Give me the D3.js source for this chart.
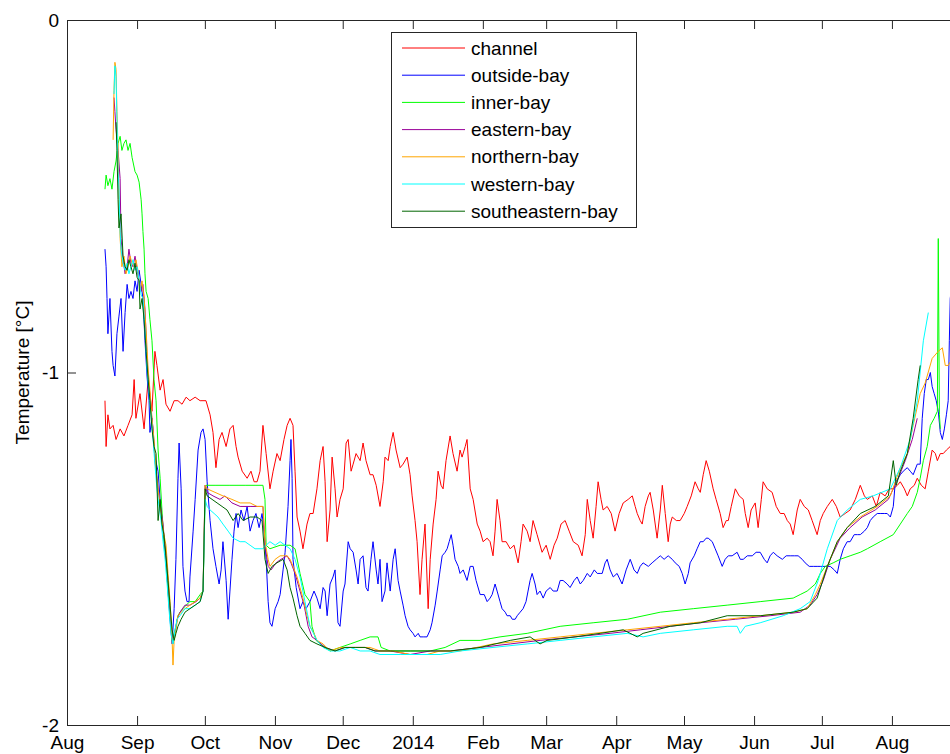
<!DOCTYPE html>
<meta charset="utf-8">
<html>
<head>
<title>bay temperatures</title>
<script src="https://d3js.org/d3.v7.min.js"></script>
<style>
  body { margin: 0; background: #fff; }
  text { font-family: Arial, "Liberation Sans", Helvetica, sans-serif; }
</style>
</head>
<body>
<div id="chart"></div>
<script>
/* series values: [days since 2013-08-01, temperature degC] */
var channelData = [
  [16.8,-1.08],[17.3,-1.21],[18.1,-1.12],[19.0,-1.16],[20.4,-1.15],[21.7,-1.19],[23.5,-1.16],[25.2,-1.18],
  [27.0,-1.15],[28.8,-1.12],[29.7,-1.02],[30.5,-1.13],[32.3,-1.06],[34.1,-1.16],[35.9,-1.02],[37.6,-1.11],
  [38.9,-0.94],[39.8,-0.98],[41.2,-1.05],[42.5,-1.02],[43.8,-1.09],[45.6,-1.11],[47.4,-1.08],[49.1,-1.08],
  [50.9,-1.09],[52.7,-1.07],[54.4,-1.08],[56.7,-1.07],[58.9,-1.08],[61.5,-1.08],[63.3,-1.12],[64.6,-1.17],
  [65.9,-1.27],[67.3,-1.19],[68.6,-1.17],[70.4,-1.21],[72.1,-1.16],[73.5,-1.15],[74.8,-1.21],[75.7,-1.24],
  [77.5,-1.28],[79.7,-1.30],[81.4,-1.28],[82.8,-1.31],[84.1,-1.31],[85.4,-1.28],[86.7,-1.15],[88.1,-1.23],
  [89.8,-1.33],[91.2,-1.28],[92.9,-1.23],[94.3,-1.25],[96.0,-1.19],[97.4,-1.15],[98.7,-1.13],[100.0,-1.15],
  [100.9,-1.28],[101.8,-1.41],[103.1,-1.45],[104.4,-1.50],[106.2,-1.43],[107.5,-1.40],[108.9,-1.40],[110.6,-1.33],
  [112.0,-1.25],[113.3,-1.21],[114.2,-1.31],[115.1,-1.48],[116.4,-1.39],[117.3,-1.24],[118.6,-1.33],[119.5,-1.41],
  [120.8,-1.36],[122.2,-1.33],[123.5,-1.20],[124.4,-1.19],[125.7,-1.28],[126.6,-1.26],[127.9,-1.23],[129.7,-1.25],
  [131.0,-1.20],[132.3,-1.25],[134.1,-1.29],[135.4,-1.29],[136.8,-1.32],[138.5,-1.38],[139.9,-1.31],[140.7,-1.24],
  [142.1,-1.25],[143.0,-1.21],[144.3,-1.17],[145.6,-1.22],[147.4,-1.27],[148.7,-1.26],[150.5,-1.24],[151.8,-1.29],
  [152.7,-1.35],[154.0,-1.42],[154.9,-1.48],[156.2,-1.63],[157.1,-1.53],[158.4,-1.43],[159.8,-1.67],[160.7,-1.53],
  [162.0,-1.43],[163.3,-1.36],[164.2,-1.28],[165.5,-1.32],[166.4,-1.33],[167.7,-1.25],[169.5,-1.18],[170.8,-1.23],
  [172.6,-1.28],[173.9,-1.22],[174.8,-1.24],[176.2,-1.21],[177.0,-1.19],[178.4,-1.33],[179.7,-1.36],[181.5,-1.43],
  [182.8,-1.45],[184.1,-1.48],[185.9,-1.47],[187.2,-1.48],[188.5,-1.52],[189.4,-1.45],[190.3,-1.36],[191.6,-1.42],
  [192.5,-1.48],[194.3,-1.48],[196.1,-1.50],[197.8,-1.49],[199.6,-1.54],[200.9,-1.48],[201.8,-1.43],[203.6,-1.45],
  [204.9,-1.48],[206.2,-1.42],[208.0,-1.46],[210.2,-1.51],[212.0,-1.49],[213.8,-1.53],[215.5,-1.49],[216.9,-1.47],
  [218.6,-1.43],[220.4,-1.42],[222.2,-1.45],[224.0,-1.48],[226.2,-1.49],[227.9,-1.52],[229.3,-1.46],[230.2,-1.36],
  [231.5,-1.42],[232.8,-1.47],[234.1,-1.38],[235.0,-1.31],[236.3,-1.36],[237.2,-1.39],[239.0,-1.38],[240.8,-1.40],
  [242.5,-1.45],[244.3,-1.40],[246.1,-1.37],[248.3,-1.36],[250.1,-1.35],[251.4,-1.38],[252.3,-1.40],[253.6,-1.42],
  [254.5,-1.43],[255.8,-1.38],[257.2,-1.35],[258.0,-1.34],[259.4,-1.39],[261.1,-1.47],[262.5,-1.39],[263.4,-1.32],
  [264.7,-1.40],[266.0,-1.48],[266.9,-1.43],[267.8,-1.41],[269.6,-1.42],[271.3,-1.42],[273.1,-1.40],[274.4,-1.38],
  [276.2,-1.35],[277.9,-1.31],[279.3,-1.33],[280.2,-1.34],[281.5,-1.29],[282.8,-1.25],[284.2,-1.28],[285.9,-1.33],
  [287.2,-1.36],[289.0,-1.40],[290.3,-1.44],[291.7,-1.42],[292.6,-1.42],[293.9,-1.38],[295.7,-1.33],[297.4,-1.35],
  [299.2,-1.36],[300.1,-1.40],[301.4,-1.44],[302.7,-1.39],[304.5,-1.37],[305.8,-1.44],[307.2,-1.36],[308.0,-1.31],
  [309.8,-1.33],[312.0,-1.34],[313.8,-1.38],[315.6,-1.40],[317.3,-1.40],[318.7,-1.42],[320.0,-1.43],[321.3,-1.46],
  [323.1,-1.39],[324.4,-1.36],[326.2,-1.38],[328.0,-1.39],[329.7,-1.42],[331.9,-1.46],[333.3,-1.42],[334.6,-1.40],
  [336.4,-1.38],[338.6,-1.36],[340.4,-1.38],[342.1,-1.41],[344.3,-1.40],[346.5,-1.39],[348.8,-1.36],[351.0,-1.32],
  [352.8,-1.35],[354.1,-1.36],[356.3,-1.35],[358.1,-1.38],[359.8,-1.34],[362.0,-1.35],[363.8,-1.33],[365.6,-1.33],
  [367.4,-1.32],[368.7,-1.31],[370.5,-1.33],[371.8,-1.35],[373.1,-1.33],[374.9,-1.32],[376.2,-1.30],[378.0,-1.32],
  [379.7,-1.33],[381.1,-1.28],[382.8,-1.22],[384.2,-1.23],[385.1,-1.25],[386.4,-1.23],[387.7,-1.23],[389.1,-1.22],
  [390.8,-1.21],[393.0,-1.19]
];
var outsideData = [
  [16.8,-0.65],[17.3,-0.70],[17.7,-0.79],[18.1,-0.89],[19.0,-0.79],[19.9,-0.94],[20.4,-0.98],[21.2,-1.01],
  [22.1,-0.89],[23.0,-0.84],[23.9,-0.79],[24.8,-0.94],[25.7,-0.83],[26.6,-0.75],[27.4,-0.79],[28.3,-0.77],
  [29.2,-0.79],[30.1,-0.74],[31.0,-0.77],[31.9,-0.71],[32.8,-0.75],[33.6,-0.79],[34.5,-0.91],[35.4,-1.01],
  [36.3,-1.08],[36.7,-1.17],[37.6,-1.13],[38.9,-1.24],[40.3,-1.28],[41.2,-1.36],[42.5,-1.45],[43.8,-1.53],
  [44.7,-1.62],[45.6,-1.70],[46.5,-1.77],[47.4,-1.67],[48.2,-1.53],[49.1,-1.30],[49.6,-1.20],[50.5,-1.33],
  [51.3,-1.55],[52.2,-1.62],[53.1,-1.65],[54.0,-1.65],[54.4,-1.58],[55.8,-1.45],[56.7,-1.36],[58.0,-1.22],
  [59.3,-1.17],[60.2,-1.16],[61.1,-1.19],[62.0,-1.31],[63.3,-1.42],[64.6,-1.50],[65.9,-1.55],[67.3,-1.60],
  [68.2,-1.56],[69.0,-1.48],[70.4,-1.59],[71.3,-1.70],[72.1,-1.62],[73.0,-1.53],[73.9,-1.45],[74.8,-1.40],
  [75.7,-1.44],[77.0,-1.39],[78.3,-1.42],[79.7,-1.38],[81.0,-1.45],[82.3,-1.42],[83.6,-1.40],[85.0,-1.44],
  [86.3,-1.40],[87.2,-1.45],[88.1,-1.53],[89.0,-1.65],[89.8,-1.71],[90.7,-1.72],[92.1,-1.67],[93.4,-1.65],
  [94.3,-1.63],[95.6,-1.56],[96.5,-1.51],[97.8,-1.38],[98.7,-1.25],[99.1,-1.19],[99.6,-1.30],[100.0,-1.53],
  [101.4,-1.61],[103.1,-1.67],[104.4,-1.65],[105.8,-1.67],[107.5,-1.65],[109.3,-1.62],[110.6,-1.64],[112.0,-1.67],
  [113.3,-1.61],[114.2,-1.62],[115.1,-1.69],[116.4,-1.60],[117.7,-1.58],[118.6,-1.56],[119.9,-1.71],[120.8,-1.72],
  [122.2,-1.62],[123.0,-1.60],[124.4,-1.48],[125.3,-1.50],[126.6,-1.51],[127.9,-1.56],[128.8,-1.60],[129.7,-1.53],
  [131.0,-1.52],[132.3,-1.61],[133.2,-1.62],[134.5,-1.53],[135.4,-1.48],[136.8,-1.56],[137.6,-1.60],[138.5,-1.53],
  [139.4,-1.65],[140.7,-1.62],[141.6,-1.54],[143.0,-1.62],[144.3,-1.53],[145.2,-1.50],[146.5,-1.59],[147.4,-1.62],
  [148.7,-1.66],[149.6,-1.69],[150.9,-1.72],[151.8,-1.73],[153.1,-1.74],[154.0,-1.75],[155.4,-1.74],[156.2,-1.75],
  [157.6,-1.75],[159.3,-1.75],[160.7,-1.73],[161.5,-1.71],[162.9,-1.66],[163.8,-1.62],[165.1,-1.56],[166.0,-1.52],
  [167.3,-1.51],[168.2,-1.50],[169.1,-1.48],[170.0,-1.46],[170.8,-1.49],[171.7,-1.53],[173.1,-1.55],[173.9,-1.57],
  [175.3,-1.56],[177.0,-1.59],[178.4,-1.55],[179.7,-1.55],[181.0,-1.59],[182.8,-1.63],[184.6,-1.63],[185.9,-1.65],
  [187.2,-1.64],[188.1,-1.63],[189.4,-1.60],[190.3,-1.62],[191.6,-1.65],[192.5,-1.67],[193.9,-1.68],[194.7,-1.69],
  [196.1,-1.69],[197.0,-1.70],[198.3,-1.70],[199.2,-1.69],[200.5,-1.68],[201.8,-1.67],[203.1,-1.65],[204.0,-1.62],
  [204.9,-1.59],[205.8,-1.57],[207.1,-1.60],[208.0,-1.63],[209.3,-1.62],[210.7,-1.64],[212.0,-1.62],[213.8,-1.61],
  [215.1,-1.62],[216.9,-1.62],[218.2,-1.59],[219.5,-1.59],[221.3,-1.60],[222.6,-1.61],[224.4,-1.59],[225.7,-1.58],
  [227.1,-1.60],[228.4,-1.59],[230.2,-1.57],[231.5,-1.58],[233.3,-1.56],[234.6,-1.57],[235.9,-1.57],[236.8,-1.57],
  [238.1,-1.54],[239.0,-1.53],[240.3,-1.56],[241.7,-1.58],[243.4,-1.57],[245.6,-1.60],[247.4,-1.56],[249.2,-1.53],
  [250.9,-1.56],[252.3,-1.57],[253.6,-1.55],[254.9,-1.54],[257.2,-1.55],[258.9,-1.54],[260.7,-1.53],[262.5,-1.52],
  [264.2,-1.53],[266.0,-1.52],[267.8,-1.53],[269.1,-1.54],[270.9,-1.55],[272.2,-1.57],[273.5,-1.60],[274.9,-1.57],
  [275.7,-1.54],[277.5,-1.52],[278.8,-1.50],[280.2,-1.48],[281.5,-1.48],[282.8,-1.47],[283.7,-1.47],[285.5,-1.48],
  [286.8,-1.50],[288.1,-1.52],[289.9,-1.55],[291.2,-1.53],[292.6,-1.52],[294.3,-1.52],[296.5,-1.51],[297.9,-1.53],
  [299.2,-1.53],[301.0,-1.52],[303.2,-1.52],[304.9,-1.51],[306.7,-1.51],[308.5,-1.53],[309.8,-1.54],[311.1,-1.52],
  [312.5,-1.51],[314.2,-1.52],[316.5,-1.53],[318.2,-1.52],[320.0,-1.52],[321.8,-1.52],[323.5,-1.52],[325.3,-1.53],
  [326.6,-1.54],[328.4,-1.55],[330.2,-1.55],[331.9,-1.55],[333.3,-1.55],[335.5,-1.55],[337.7,-1.55],[339.5,-1.56],
  [340.8,-1.57],[342.1,-1.53],[343.5,-1.50],[345.2,-1.48],[346.5,-1.48],[348.3,-1.46],[349.7,-1.46],[351.0,-1.46],
  [352.8,-1.45],[354.1,-1.44],[355.4,-1.42],[356.7,-1.41],[358.5,-1.40],[359.8,-1.40],[361.6,-1.40],[362.9,-1.40],
  [364.3,-1.41],[365.6,-1.38],[366.5,-1.31],[367.8,-1.30],[368.7,-1.29],[370.0,-1.28],[371.8,-1.27],[373.1,-1.28],
  [374.4,-1.29],[376.2,-1.26],[377.5,-1.26],[378.4,-1.13],[379.3,-1.06],[380.2,-1.02],[381.1,-1.02],[382.0,-1.00],
  [382.8,-1.04],[383.7,-1.06],[384.6,-1.08],[385.5,-1.11],[386.4,-1.17],[387.3,-1.19],[388.2,-1.16],[389.1,-1.12],
  [389.9,-1.08],[390.4,-0.91],[390.8,-0.79],[391.7,-0.74]
];
var innerData = [
  [16.8,-0.48],[17.3,-0.44],[18.1,-0.47],[19.0,-0.45],[19.9,-0.48],[20.8,-0.43],[21.7,-0.40],[22.6,-0.35],
  [23.5,-0.33],[24.3,-0.37],[25.2,-0.35],[26.1,-0.34],[27.0,-0.37],[27.9,-0.35],[28.8,-0.39],[30.1,-0.43],
  [31.0,-0.44],[31.9,-0.46],[32.8,-0.51],[33.2,-0.55],[33.6,-0.60],[34.1,-0.65],[34.5,-0.72],[35.0,-0.77],
  [35.9,-0.79],[36.7,-0.85],[37.6,-0.91],[38.5,-1.02],[39.4,-1.08],[40.3,-1.22],[41.2,-1.30],[42.0,-1.39],
  [42.9,-1.48],[43.8,-1.53],[44.7,-1.62],[45.6,-1.69],[46.5,-1.76],[47.4,-1.74],[48.2,-1.72],[49.1,-1.69],
  [50.0,-1.68],[51.3,-1.67],[52.7,-1.66],[54.4,-1.65],[56.7,-1.65],[58.9,-1.63],[60.2,-1.62],[61.1,-1.36],
  [61.5,-1.32],[65.5,-1.32],[72.1,-1.32],[78.8,-1.32],[83.2,-1.32],[86.7,-1.32],[87.6,-1.36],[88.1,-1.49],
  [89.8,-1.50],[94.3,-1.49],[98.7,-1.49],[100.9,-1.50],[103.1,-1.57],[105.3,-1.63],[107.5,-1.65],[108.4,-1.72],
  [110.2,-1.76],[112.0,-1.77],[116.4,-1.79],[120.8,-1.78],[125.3,-1.77],[129.7,-1.76],[134.1,-1.75],[137.6,-1.75],
  [139.0,-1.78],[143.0,-1.79],[151.8,-1.79],[160.7,-1.79],[167.3,-1.78],[173.9,-1.76],[182.8,-1.76],[191.6,-1.75],
  [203.6,-1.74],[218.2,-1.72],[232.8,-1.71],[247.9,-1.70],[262.5,-1.68],[277.1,-1.67],[292.1,-1.66],[306.7,-1.65],
  [321.3,-1.64],[324.4,-1.63],[327.5,-1.62],[331.1,-1.60],[333.3,-1.57],[335.5,-1.55],[339.0,-1.54],[342.1,-1.53],
  [346.5,-1.52],[351.0,-1.51],[354.1,-1.50],[359.8,-1.48],[365.6,-1.46],[368.7,-1.43],[371.8,-1.40],[374.0,-1.38],
  [376.2,-1.34],[377.5,-1.30],[378.9,-1.25],[380.6,-1.21],[382.0,-1.15],[383.7,-1.13],[385.1,-1.11],[385.5,-0.62],
  [386.0,-1.12],[386.4,-1.16]
];
var easternData = [
  [20.8,-0.22],[21.2,-0.26],[21.7,-0.31],[22.6,-0.37],[23.5,-0.45],[23.9,-0.62],[24.8,-0.68],[25.7,-0.72],
  [26.6,-0.70],[27.4,-0.65],[28.3,-0.69],[29.2,-0.70],[30.1,-0.67],[31.0,-0.71],[31.9,-0.74],[32.8,-0.77],
  [33.6,-0.75],[34.5,-0.82],[35.4,-0.96],[36.3,-1.04],[37.2,-1.11],[38.1,-1.16],[38.9,-1.25],[39.8,-1.30],
  [40.7,-1.35],[41.6,-1.39],[42.5,-1.43],[43.4,-1.50],[44.3,-1.56],[45.1,-1.63],[46.0,-1.72],[46.9,-1.77],
  [47.8,-1.74],[48.7,-1.70],[50.0,-1.68],[52.2,-1.66],[54.4,-1.66],[57.1,-1.65],[58.9,-1.64],[60.2,-1.62],
  [61.1,-1.32],[62.0,-1.34],[64.6,-1.35],[67.7,-1.36],[69.9,-1.35],[73.0,-1.37],[76.6,-1.38],[81.0,-1.38],
  [84.1,-1.38],[86.7,-1.38],[87.6,-1.49],[89.0,-1.55],[90.3,-1.56],[92.5,-1.54],[94.7,-1.53],[97.4,-1.52],
  [99.1,-1.54],[100.9,-1.57],[103.1,-1.62],[104.9,-1.66],[106.7,-1.72],[108.4,-1.75],[110.6,-1.76],[114.2,-1.78],
  [118.6,-1.79],[123.0,-1.78],[127.5,-1.78],[131.9,-1.78],[136.3,-1.79],[143.0,-1.79],[151.8,-1.80],[160.7,-1.79],
  [169.5,-1.79],[182.8,-1.78],[196.1,-1.77],[209.3,-1.76],[224.8,-1.75],[240.3,-1.74],[253.6,-1.73],[266.9,-1.72],
  [280.2,-1.71],[295.7,-1.70],[311.1,-1.69],[324.4,-1.68],[328.8,-1.66],[331.9,-1.63],[334.6,-1.59],[337.7,-1.53],
  [342.1,-1.47],[346.5,-1.44],[351.8,-1.41],[357.6,-1.39],[363.4,-1.36],[367.8,-1.30],[370.9,-1.25],[374.0,-1.19],
  [376.2,-1.13]
];
var northernData = [
  [20.4,-0.34],[20.8,-0.20],[21.2,-0.12],[21.7,-0.14],[22.1,-0.26],[22.6,-0.37],[23.0,-0.51],[23.5,-0.62],
  [24.3,-0.70],[25.2,-0.67],[26.1,-0.72],[27.0,-0.70],[27.9,-0.67],[28.8,-0.69],[29.7,-0.70],[30.5,-0.68],
  [31.4,-0.71],[32.3,-0.77],[33.2,-0.74],[34.1,-0.79],[35.0,-0.88],[35.9,-0.99],[36.7,-1.05],[37.6,-1.13],
  [38.5,-1.19],[39.4,-1.28],[40.3,-1.33],[41.2,-1.38],[42.0,-1.42],[42.9,-1.46],[43.8,-1.49],[44.7,-1.57],
  [45.6,-1.65],[46.5,-1.76],[46.9,-1.83],[47.4,-1.76],[48.2,-1.73],[49.1,-1.69],[50.5,-1.68],[52.2,-1.67],
  [54.4,-1.66],[56.7,-1.65],[58.9,-1.64],[60.2,-1.62],[61.1,-1.32],[62.0,-1.33],[65.5,-1.34],[69.0,-1.35],
  [73.0,-1.36],[76.6,-1.37],[81.0,-1.37],[84.1,-1.38],[86.7,-1.38],[87.6,-1.48],[89.0,-1.53],[89.8,-1.55],
  [92.1,-1.53],[94.3,-1.52],[97.4,-1.52],[98.7,-1.53],[100.0,-1.55],[101.8,-1.58],[103.1,-1.61],[104.4,-1.64],
  [106.2,-1.69],[107.5,-1.72],[109.3,-1.74],[110.6,-1.76],[113.3,-1.77],[116.4,-1.79],[120.8,-1.78],[125.3,-1.78],
  [129.7,-1.78],[134.1,-1.78],[138.5,-1.79],[144.3,-1.79],[151.8,-1.80],[159.3,-1.80],[165.1,-1.79],[173.9,-1.79],
  [188.5,-1.77],[203.6,-1.76],[218.2,-1.75],[232.8,-1.74],[247.9,-1.73],[262.5,-1.72],[277.1,-1.71],[292.1,-1.70],
  [306.7,-1.69],[321.3,-1.68],[327.5,-1.67],[331.1,-1.63],[333.3,-1.60],[336.4,-1.55],[340.8,-1.48],[345.2,-1.44],
  [351.0,-1.41],[358.5,-1.38],[364.3,-1.35],[368.7,-1.27],[371.8,-1.23],[374.4,-1.15],[377.5,-1.06],[379.7,-1.03],
  [382.8,-0.96],[385.5,-0.94],[387.3,-0.93],[388.6,-0.98],[389.9,-0.98],[391.7,-0.96]
];
var westernData = [
  [20.8,-0.21],[21.2,-0.13],[21.7,-0.16],[22.1,-0.28],[22.6,-0.43],[23.0,-0.48],[23.5,-0.60],[23.9,-0.65],
  [24.8,-0.69],[25.7,-0.71],[26.6,-0.69],[27.4,-0.72],[28.3,-0.70],[29.2,-0.68],[30.1,-0.71],[31.0,-0.70],
  [31.9,-0.74],[32.8,-0.78],[33.6,-0.79],[34.5,-0.88],[35.4,-0.99],[36.3,-1.06],[37.2,-1.12],[38.1,-1.19],
  [38.9,-1.26],[39.8,-1.33],[40.7,-1.38],[41.6,-1.42],[42.5,-1.48],[43.4,-1.53],[44.3,-1.60],[45.1,-1.67],
  [46.0,-1.74],[46.9,-1.77],[47.8,-1.73],[48.7,-1.70],[50.0,-1.69],[52.2,-1.67],[54.4,-1.67],[56.7,-1.66],
  [58.9,-1.65],[60.2,-1.62],[61.1,-1.36],[62.0,-1.38],[63.3,-1.39],[65.1,-1.40],[66.8,-1.41],[69.0,-1.43],
  [71.3,-1.45],[73.5,-1.47],[76.6,-1.48],[78.8,-1.48],[81.0,-1.49],[83.2,-1.50],[85.4,-1.50],[86.7,-1.50],
  [88.1,-1.49],[89.8,-1.48],[92.1,-1.49],[94.3,-1.48],[96.5,-1.49],[98.7,-1.50],[100.9,-1.53],[103.1,-1.58],
  [105.3,-1.65],[107.5,-1.72],[110.6,-1.76],[113.3,-1.78],[116.4,-1.79],[120.8,-1.79],[125.3,-1.78],[129.7,-1.79],
  [134.1,-1.79],[138.5,-1.80],[147.4,-1.80],[156.2,-1.80],[165.1,-1.80],[173.9,-1.79],[188.5,-1.78],[203.6,-1.77],
  [218.2,-1.76],[232.8,-1.75],[247.9,-1.74],[254.9,-1.75],[262.5,-1.74],[277.1,-1.73],[292.1,-1.72],[296.5,-1.72],
  [297.9,-1.74],[300.1,-1.72],[306.7,-1.71],[316.9,-1.69],[324.4,-1.67],[328.8,-1.65],[332.4,-1.59],[336.4,-1.50],
  [340.8,-1.42],[345.2,-1.39],[351.0,-1.36],[356.7,-1.35],[364.3,-1.33],[368.7,-1.27],[373.1,-1.19],[376.2,-1.08],
  [378.9,-0.91],[381.1,-0.83]
];
var southeasternData = [
  [21.7,-0.29],[22.1,-0.37],[22.6,-0.51],[23.0,-0.59],[23.9,-0.55],[24.8,-0.67],[25.7,-0.70],[26.6,-0.71],
  [27.4,-0.68],[28.3,-0.70],[29.2,-0.72],[30.1,-0.69],[31.0,-0.73],[31.9,-0.74],[32.3,-0.82],[33.2,-0.79],
  [34.1,-0.85],[35.0,-0.94],[35.9,-1.02],[36.7,-1.08],[37.6,-1.16],[38.5,-1.21],[39.4,-1.23],[40.3,-1.42],
  [41.2,-1.36],[42.0,-1.43],[42.9,-1.46],[43.8,-1.52],[44.7,-1.59],[45.6,-1.66],[46.5,-1.73],[47.4,-1.76],
  [48.2,-1.74],[49.1,-1.72],[50.5,-1.70],[52.2,-1.68],[54.4,-1.67],[56.7,-1.66],[58.9,-1.65],[60.2,-1.62],
  [61.1,-1.33],[62.0,-1.35],[64.2,-1.36],[66.4,-1.37],[68.6,-1.38],[70.8,-1.39],[73.5,-1.42],[75.7,-1.40],
  [77.9,-1.42],[81.0,-1.41],[84.1,-1.41],[86.3,-1.42],[87.6,-1.53],[89.0,-1.57],[90.7,-1.55],[92.9,-1.54],
  [95.6,-1.53],[97.4,-1.56],[98.7,-1.61],[100.0,-1.64],[101.8,-1.69],[103.1,-1.72],[105.3,-1.74],[107.5,-1.76],
  [110.6,-1.77],[114.2,-1.78],[118.6,-1.79],[123.0,-1.78],[127.5,-1.78],[131.9,-1.78],[136.3,-1.79],[143.0,-1.79],
  [151.8,-1.79],[160.7,-1.79],[169.5,-1.79],[182.8,-1.78],[196.1,-1.76],[204.9,-1.75],[209.3,-1.77],[212.4,-1.76],
  [224.8,-1.75],[235.9,-1.74],[246.1,-1.73],[252.3,-1.75],[254.9,-1.74],[266.9,-1.72],[280.2,-1.71],[292.1,-1.69],
  [306.7,-1.69],[321.3,-1.68],[327.5,-1.67],[331.9,-1.64],[336.4,-1.55],[340.8,-1.48],[345.2,-1.44],[351.0,-1.40],
  [357.6,-1.38],[363.4,-1.35],[365.6,-1.25],[366.9,-1.32],[368.7,-1.28],[371.8,-1.23],[374.4,-1.13],[376.6,-1.02],
  [377.5,-0.98]
];

var seriesNames = ["channel", "outside-bay", "inner-bay", "eastern-bay", "northern-bay", "western-bay", "southeastern-bay"];
var seriesColors = ["#ff0000", "#0000ff", "#00ff00", "#990099", "#ffa500", "#00ffff", "#006400"];
var seriesData = [channelData, outsideData, innerData, easternData, northernData, westernData, southeasternData];

var startDate = "2013-08-01", endDate = "2014-09-01";
var monthTicks = ["2013-08-01","2013-09-01","2013-10-01","2013-11-01","2013-12-01","2014-01-01","2014-02-01",
                  "2014-03-01","2014-04-01","2014-05-01","2014-06-01","2014-07-01","2014-08-01"];
var monthLabels = ["Aug","Sep","Oct","Nov","Dec","2014","Feb","Mar","Apr","May","Jun","Jul","Aug"];
var yTicks = [-2, -1, 0];
var yLabel = "Temperature [\u00b0C]";

/* layout */
var W = 950, H = 754;
var plot = {left: 67, top: 20, right: 962, bottom: 725};
var fontSize = 19;

var parse = d3.utcParse("%Y-%m-%d");
var t0 = parse(startDate);
function dayToDate(d) { return new Date(t0.getTime() + d * 864e5); }

var svg = d3.select("#chart").append("svg")
    .attr("width", W)
    .attr("height", H);

var x = d3.scaleUtc()
    .domain([t0, parse(endDate)])
    .range([plot.left, plot.right]);
var y = d3.scaleLinear()
    .domain([-2, 0])
    .range([plot.bottom, plot.top]);

svg.append("defs").append("clipPath").attr("id", "clip")
  .append("rect")
    .attr("x", plot.left).attr("y", plot.top)
    .attr("width", plot.right - plot.left).attr("height", plot.bottom - plot.top);

/* lines */
var line = d3.line()
    .x(function(d) { return x(dayToDate(d[0])); })
    .y(function(d) { return y(d[1]); });

svg.append("g").attr("clip-path", "url(#clip)")
  .selectAll("path")
  .data(seriesData)
  .enter().append("path")
    .attr("d", line)
    .attr("fill", "none")
    .attr("stroke", function(d, i) { return seriesColors[i]; })
    .attr("stroke-width", 1);

/* axes box + ticks */
var tickDates = monthTicks.map(parse);
var fmt = function(d, i) { return monthLabels[i]; };

var xBottom = svg.append("g")
    .attr("transform", "translate(0," + plot.bottom + ")")
    .call(d3.axisBottom(x).tickValues(tickDates).tickFormat(fmt).tickSizeInner(-9).tickSizeOuter(0).tickPadding(11));
var xTop = svg.append("g")
    .attr("transform", "translate(0," + plot.top + ")")
    .call(d3.axisTop(x).tickValues(tickDates).tickFormat("").tickSizeInner(-9).tickSizeOuter(0));
var yLeft = svg.append("g")
    .attr("transform", "translate(" + plot.left + ",0)")
    .call(d3.axisLeft(y).tickValues(yTicks).tickFormat(d3.format("d")).tickSizeInner(-9).tickSizeOuter(0).tickPadding(8));

[xBottom, xTop, yLeft].forEach(function(g) {
  g.select(".domain").remove();
  g.selectAll("line").attr("stroke", "#262626");
  g.selectAll("text").attr("font-size", fontSize).attr("fill", "#000")
    .style("font-family", "Arial, 'Liberation Sans', sans-serif");
});
yLeft.selectAll("text").text(function(d) { return d === 0 ? "0" : String(d).replace("\u2212", "-"); });

svg.append("rect")
    .attr("x", plot.left + 0.5).attr("y", plot.top + 0.5)
    .attr("width", plot.right - plot.left).attr("height", plot.bottom - plot.top)
    .attr("fill", "none")
    .attr("stroke", "#262626");

svg.append("text")
    .attr("transform", "translate(29," + ((plot.top + plot.bottom) / 2) + ") rotate(-90)")
    .attr("text-anchor", "middle")
    .attr("font-size", fontSize)
    .text(yLabel);

/* legend */
var legend = svg.append("g").attr("transform", "translate(391,32)");
legend.append("rect")
    .attr("x", 0.5).attr("y", 0.5)
    .attr("width", 245).attr("height", 195)
    .attr("fill", "#fff")
    .attr("stroke", "#262626");
var items = legend.selectAll(".item")
    .data(seriesNames)
  .enter().append("g")
    .attr("transform", function(d, i) { return "translate(0," + (16 + i * 27.2) + ")"; });
items.append("line")
    .attr("x1", 11).attr("x2", 74)
    .attr("stroke", function(d, i) { return seriesColors[i]; })
    .attr("stroke-width", 1);
items.append("text")
    .attr("x", 80)
    .attr("dy", "0.35em")
    .attr("font-size", fontSize)
    .text(function(d) { return d; });
</script>
</body>
</html>
